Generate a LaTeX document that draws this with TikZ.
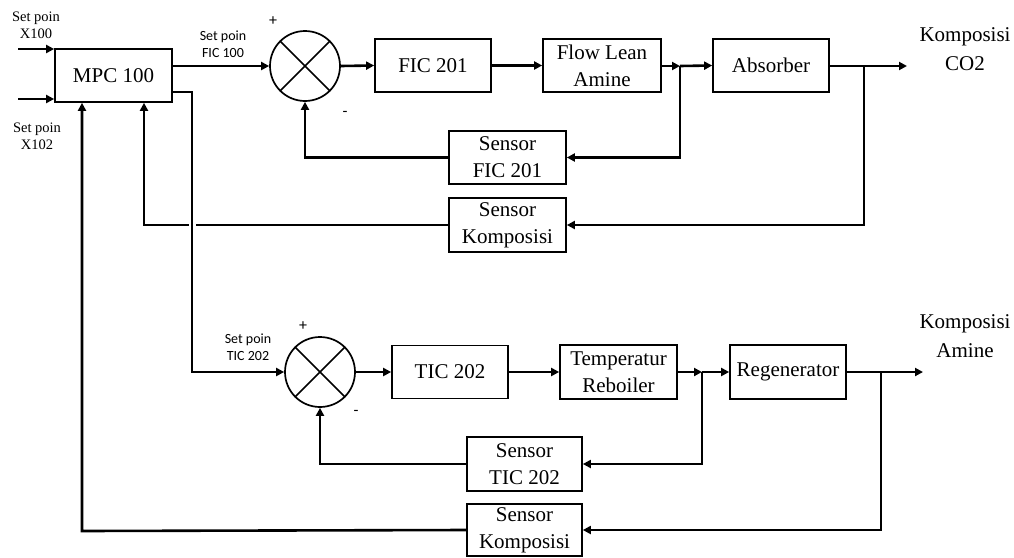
\documentclass[tikz,border=0pt]{standalone}
\usepackage{fontspec}
\setmainfont{Liberation Serif}
\newfontfamily\calib{Carlito}
\usetikzlibrary{arrows.meta,calc}
\begin{document}
\begin{tikzpicture}[x=1pt,y=-1pt,
  blk/.style={draw, line width=1.7pt, minimum width=116pt, minimum height=53pt, inner sep=0pt, align=center, font=\fontsize{21}{27}\selectfont},
  sumj/.style={draw, circle, line width=1.7pt, minimum size=70pt, inner sep=0pt},
  wire/.style={line width=2.6pt},
  arr/.style={wire, -{Triangle[length=8pt,width=8pt]}},
  small/.style={font=\fontsize{14.5}{17}\selectfont, align=center},
  smallsans/.style={font=\calib\fontsize{14}{17}\selectfont, align=center},
  sgn/.style={font=\calib\fontsize{16}{16}\selectfont},
  outlbl/.style={font=\fontsize{21}{29}\selectfont, align=center}]
\useasboundingbox (0,0) rectangle (1014,557);
% top loop
\node[blk, minimum width=117pt] (mpc) at (113.5,75.5) {MPC 100};
\node[sumj] (s1) at (305,66) {};
\draw[line width=1.5pt] (s1.north east) -- (s1.south west) (s1.north west) -- (s1.south east);
\node[blk] (fic) at (433,65.5) {FIC 201};
\node[blk, minimum width=118pt] (flow) at (602,65.5) {Flow Lean\\Amine};
\node[blk] (abs) at (771,65.5) {Absorber};
\node[blk, minimum width=117pt] (sfic) at (507.5,157.5) {Sensor\\FIC 201};
\node[blk, minimum width=117pt, minimum height=54pt] (sk1) at (507.5,225) {Sensor\\Komposisi};
\coordinate (j1) at (680,66);
\coordinate (j2) at (864,66);
\coordinate (o1) at (907,66);
\node[outlbl] (k1) at (965,49) {Komposisi\\CO2};
\node[small] (sp1) at (36,25) {Set poin\\X100};
\node[small] (sp2) at (37,136) {Set poin\\X102};
\node[smallsans] (sp3) at (223,44) {Set poin\\FIC 100};
\node[sgn] (p1) at (273,21) {+};
\node[sgn] (m1) at (345,114) {-};
\coordinate (in1) at (18,49);
\coordinate (in2) at (18,99);
\draw[arr] (in1) -- (in1 -| mpc.west);
\draw[arr] (in2) -- (in2 -| mpc.west);
\draw[arr] (mpc.east |- s1) -- (s1.west);
\draw[arr] (s1.east) -- (fic.west);
\draw[arr] (fic.east) -- (flow.west);
\draw[arr] (flow.east |- j1) -- (j1);
\draw[arr] (j1) -- (abs.west);
\draw[arr] (abs.east |- o1) -- (o1);
\draw[arr] (j1) -- (j1 |- sfic) -- (sfic.east);
\draw[arr] (sfic.west) -- (s1 |- sfic) -- (s1.south);
\draw[arr] (j2) -- (j2 |- sk1) -- (sk1.east);
\coordinate (f1) at (144,225);
\draw[arr] (sk1.west) -- (f1) -- (f1 |- mpc.south);
% bottom loop
\node[sumj] (s2) at (320,372) {};
\draw[line width=1.5pt] (s2.north east) -- (s2.south west) (s2.north west) -- (s2.south east);
\node[blk] (tic) at (450,372) {TIC 202};
\node[blk, minimum width=117pt, minimum height=54pt] (temp) at (618.5,372) {Temperatur\\Reboiler};
\node[blk, minimum height=54pt] (reg) at (788,372) {Regenerator};
\node[blk, minimum width=115pt, minimum height=54pt] (stic) at (524.5,464) {Sensor\\TIC 202};
\node[blk, minimum width=115pt, minimum height=52pt] (sk2) at (524.5,530) {Sensor\\Komposisi};
\coordinate (j3) at (702,372);
\coordinate (j4) at (881,372);
\coordinate (o2) at (923,372);
\node[outlbl] (k2) at (965,336) {Komposisi\\Amine};
\node[smallsans] (sp4) at (248,347) {Set poin\\TIC 202};
\node[sgn] (p2) at (303,326) {+};
\node[sgn] (m2) at (356,413) {-};
\coordinate (d1) at (192,92);
\draw[arr] (s2.east) -- (tic.west);
\draw[arr] (tic.east) -- (temp.west);
\draw[arr] (temp.east |- j3) -- (j3);
\draw[arr] (j3) -- (reg.west);
\draw[arr] (reg.east |- o2) -- (o2);
\draw[arr] (j3) -- (j3 |- stic) -- (stic.east);
\draw[arr] (stic.west) -- (s2 |- stic) -- (s2.south);
\draw[arr] (j4) -- (j4 |- sk2) -- (sk2.east);
\coordinate (f2) at (82,531);
\draw[arr] (sk2.west) -- (f2) -- (f2 |- mpc.south);
\draw[arr, preaction={draw=white, line width=7pt, shorten >=10pt}] (mpc.east |- d1) -- (d1) -- (d1 |- s2) -- (s2.west);
\end{tikzpicture}
\end{document}
